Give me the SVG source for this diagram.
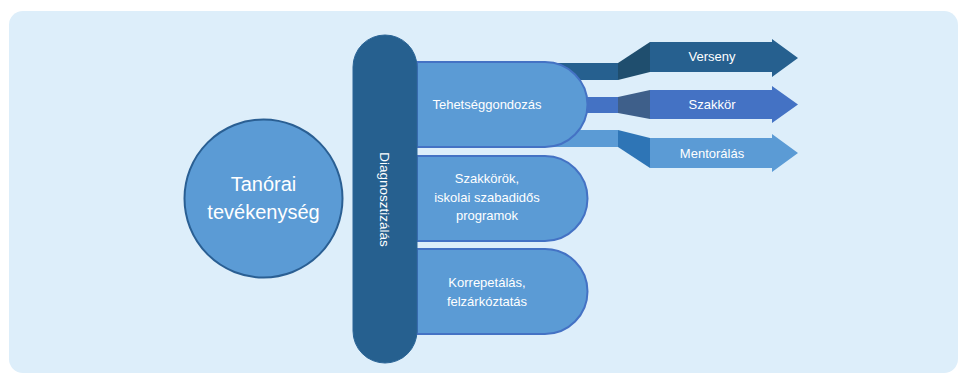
<svg xmlns="http://www.w3.org/2000/svg" width="959" height="373" viewBox="0 0 959 373">
<style>
.t{font-family:"Liberation Sans",Arial,sans-serif;fill:#ffffff;text-anchor:middle}
.bar{fill:#5B9BD5;stroke:#4472C4;stroke-width:2}
</style>
<rect x="0" y="0" width="959" height="373" fill="#ffffff"/>
<rect x="9" y="11" width="949" height="362" rx="14" fill="#DDEEFA"/>
<g id="connectors">
<rect x="540" y="63" width="78" height="17" fill="#26608F"/>
<polygon points="618,63 650,42 650,72 618,80" fill="#1F4E6E"/>
<rect x="540" y="97" width="78" height="16" fill="#4472C4"/>
<polygon points="618,97 650,90 650,119 618,113" fill="#3E5F8A"/>
<rect x="540" y="130" width="78" height="17" fill="#5B9BD5"/>
<polygon points="618,130 650,138 650,168 618,147" fill="#2E75B6"/>
</g>
<g id="tanorai">
<circle cx="263.5" cy="198.5" r="79" fill="#5B9BD5" stroke="#2A5F93" stroke-width="2"/>
<text class="t" x="263.5" y="191" font-size="20">Tanórai</text>
<text class="t" x="263.5" y="219" font-size="20">tevékenység</text>
</g>
<g id="tehetseg">
<path class="bar" d="M417,62 H545 A42.5,42.5 0 0 1 545,147 H417 Z"/>
<text class="t" x="487" y="109" font-size="13">Tehetséggondozás</text>
</g>
<g id="szakkorok">
<path class="bar" d="M417,156 H545 A42.5,42.5 0 0 1 545,241 H417 Z"/>
<text class="t" x="487" y="183" font-size="13">Szakkörök,</text>
<text class="t" x="487" y="201.5" font-size="13">iskolai szabadidős</text>
<text class="t" x="487" y="220" font-size="13">programok</text>
</g>
<g id="korrepetalas">
<path class="bar" d="M417,249 H545 A42.5,42.5 0 0 1 545,334 H417 Z"/>
<text class="t" x="487" y="287" font-size="13">Korrepetálás,</text>
<text class="t" x="487" y="305.5" font-size="13">felzárkóztatás</text>
</g>
<g id="diagnosztizalas">
<rect x="353" y="35" width="64" height="328" rx="32" fill="#26608F" stroke="#2B6597" stroke-width="1"/>
<text class="t" font-size="13.5" transform="translate(380,199.5) rotate(90)">Diagnosztizálás</text>
</g>
<g id="verseny">
<polygon points="650,42 772,42 772,39 798,58 772,77 772,72 650,72" fill="#26608F"/>
<text class="t" x="712" y="60.5" font-size="13">Verseny</text>
</g>
<g id="szakkor">
<polygon points="650,90 772,90 772,86 798,104.5 772,123 772,119 650,119" fill="#4472C4"/>
<text class="t" x="712" y="108.5" font-size="13">Szakkör</text>
</g>
<g id="mentoralas">
<polygon points="650,138 772,138 772,134 798,153 772,172 772,168 650,168" fill="#5B9BD5"/>
<text class="t" x="712" y="157.5" font-size="13">Mentorálás</text>
</g>
</svg>
